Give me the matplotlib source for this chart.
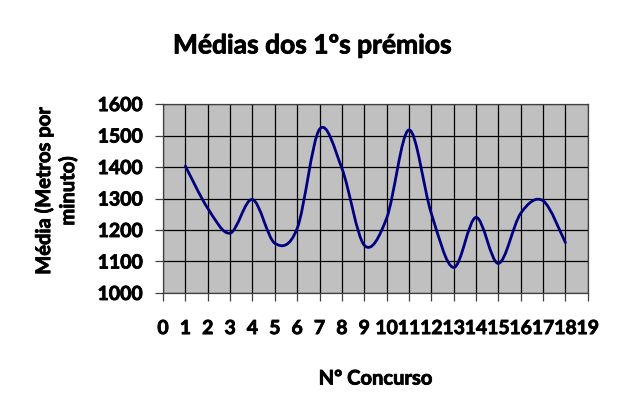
import matplotlib.pyplot as plt
import numpy as np
from matplotlib.path import Path
from matplotlib.patches import PathPatch
import matplotlib.patheffects as pe

# dados
concursos = [1, 2, 3, 4, 5, 6, 7, 8, 9, 10, 11, 12, 13, 14, 15, 16, 17, 18]
medias = [1403, 1269, 1190, 1297, 1158, 1205, 1520, 1396, 1152, 1237,
          1518, 1253, 1081, 1240, 1094, 1253, 1293, 1160]
xticks = list(range(0, 20))
yticks = [1000, 1100, 1200, 1300, 1400, 1500, 1600]

plt.rcParams['font.family'] = ['Lato', 'DejaVu Sans']
plt.rcParams['font.weight'] = 'bold'
# traço fino para engrossar o texto (tipo Calibri negrito)
grosso = [pe.withStroke(linewidth=0.6, foreground='black')]

fig = plt.figure(figsize=(6.2, 4.13), dpi=100)
ax = fig.add_axes([0.263, 0.2906, 0.685, 0.4574])
ax.set_facecolor('#c0c0c0')

# linha suavizada (estilo Excel): curvas de Bezier a partir dos pontos
x = np.array(concursos, dtype=float)
y = np.array(medias, dtype=float)
verts = [(x[0], y[0])]
codes = [Path.MOVETO]
n = len(x)
for i in range(n - 1):
    p0 = (x[max(i - 1, 0)], y[max(i - 1, 0)])
    p1 = (x[i], y[i])
    p2 = (x[i + 1], y[i + 1])
    p3 = (x[min(i + 2, n - 1)], y[min(i + 2, n - 1)])
    c1 = (p1[0] + (p2[0] - p0[0]) / 6, p1[1] + (p2[1] - p0[1]) / 6)
    c2 = (p2[0] - (p3[0] - p1[0]) / 6, p2[1] - (p3[1] - p1[1]) / 6)
    verts += [c1, c2, p2]
    codes += [Path.CURVE4] * 3
ax.add_patch(PathPatch(Path(verts, codes), facecolor='none',
                       edgecolor='#000080', lw=2.0, zorder=3,
                       capstyle='round', joinstyle='round'))

ax.set_xlim(0, 19)
ax.set_ylim(1000, 1600)
ax.set_xticks(xticks)
ax.set_yticks(yticks)
ax.grid(True, color='black', lw=0.9)
ax.set_axisbelow(True)
for s in ax.spines.values():
    s.set_color('#404040')
    s.set_linewidth(0.9)
ax.tick_params(axis='both', labelsize=14, length=5.5, color='#404040', width=0.9)
ax.tick_params(axis='y', pad=9)
ax.tick_params(axis='x', pad=14)
for lbl in ax.get_xticklabels() + ax.get_yticklabels():
    lbl.set_path_effects(grosso)

fig.text(0.503, 0.89, 'Médias dos 1ºs prémios', ha='center', va='center',
         fontsize=19, fontweight='bold', path_effects=grosso)
ax.set_xlabel('Nº Concurso', fontsize=14.5, fontweight='bold',
              path_effects=grosso)
ax.xaxis.set_label_coords(0.5, -0.40)
ax.set_ylabel('Média (Metros por\nminuto)', fontsize=14.5, fontweight='bold',
              linespacing=1.25, path_effects=grosso)
ax.yaxis.set_label_coords(-0.20, 0.54)

fig.savefig('out.png', dpi=100)
